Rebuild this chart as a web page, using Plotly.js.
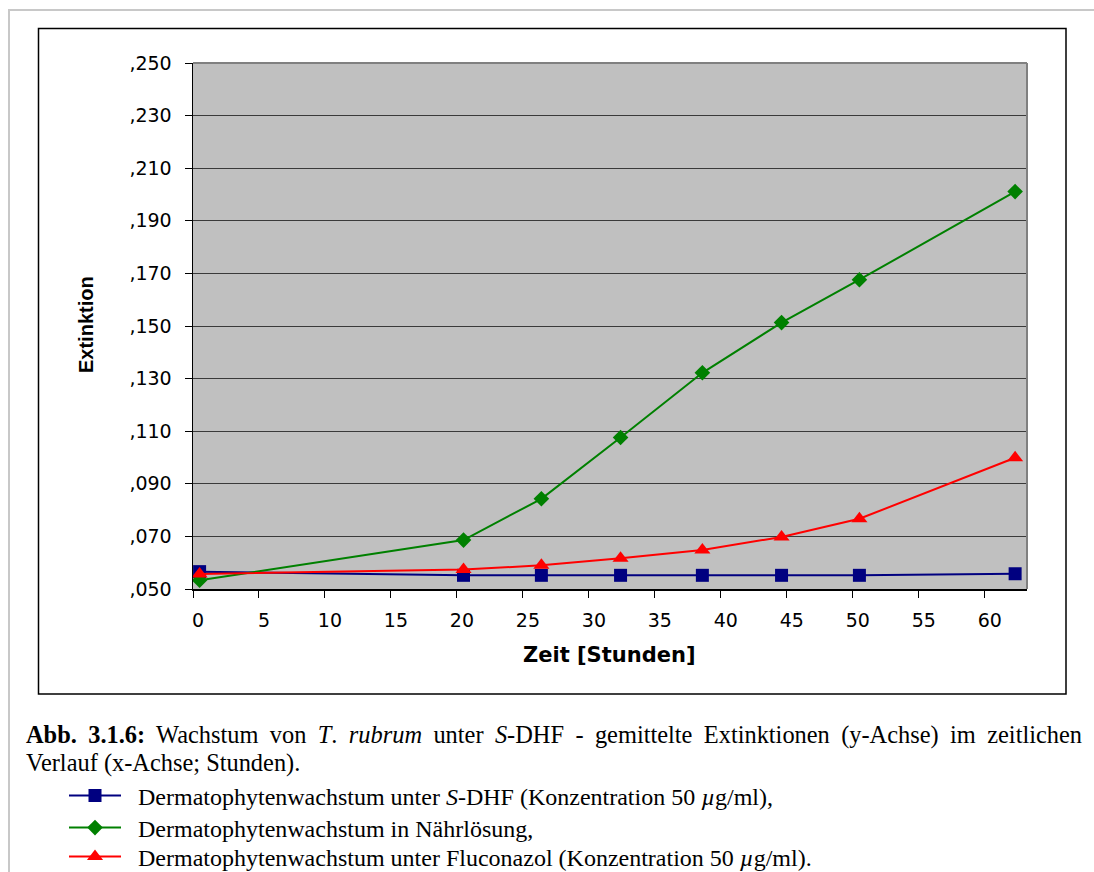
<!DOCTYPE html>
<html>
<head>
<meta charset="utf-8">
<script src="https://cdn.plot.ly/plotly-3.0.1.min.js"></script>
<style>
  html, body { margin: 0; padding: 0; background: #ffffff; }
  #wrap { position: relative; width: 1094px; height: 872px; overflow: hidden; }
  #chart { position: absolute; left: 0; top: 0; width: 1094px; height: 872px; }
  .cap { position: absolute; left: 26px; width: 1056px; font-family: "Liberation Serif", "Times New Roman", serif;
         font-size: 24.4px; color: #000; text-align: justify; text-align-last: justify; line-height: 28px; white-space: nowrap; }
  .cap2 { text-align-last: left; }
</style>
</head>
<body>
<div id="wrap">
  <div id="chart"></div>
  <div class="cap" style="top:721px;"><b>Abb. 3.1.6:</b> Wachstum von <i>T</i>. <i>rubrum</i> unter <i>S</i>-DHF - gemittelte Extinktionen (y-Achse) im zeitlichen</div>
  <div class="cap cap2" style="top:749px;">Verlauf (x-Achse; Stunden).</div>
</div>
<script>
// ---- data ----
const times = [0.5, 20.5, 26.4, 32.4, 38.6, 44.6, 50.5, 62.3];
const sDhf = [0.0566, 0.0552, 0.0552, 0.0552, 0.0552, 0.0552, 0.0552, 0.0558];
const naehrloesung = [0.0533, 0.0686, 0.0843, 0.1076, 0.1322, 0.1513, 0.1676, 0.2011];
const fluconazol = [0.0557, 0.0574, 0.0590, 0.0617, 0.0648, 0.0698, 0.0767, 0.0999];

const seriesNames = [
  "Dermatophytenwachstum unter <i>S</i>-DHF (Konzentration 50 <i>µ</i>g/ml),",
  "Dermatophytenwachstum in Nährlösung,",
  "Dermatophytenwachstum unter Fluconazol (Konzentration 50 <i>µ</i>g/ml)."
];

const xTickVals = [0, 5, 10, 15, 20, 25, 30, 35, 40, 45, 50, 55, 60];
const yTickVals = [0.05, 0.07, 0.09, 0.11, 0.13, 0.15, 0.17, 0.19, 0.21, 0.23, 0.25];
const yTickText = [",050", ",070", ",090", ",110", ",130", ",150", ",170", ",190", ",210", ",230", ",250"];

const xTitle = "Zeit [Stunden]";
const yTitle = "Extinktion";

// ---- geometry helpers (pixel -> paper) ----
const L = 193, R = 1027, T = 63, B = 589, W = 1094, H = 872;
const px = v => (v - L) / (R - L);
const py = v => (B - v) / (B - T);

const gap = "\u00a0\u00a0";
const traces = [
  { x: times, y: sDhf, name: gap + seriesNames[0], type: "scatter", mode: "lines+markers", legend: "legend",
    line: { color: "#000080", width: 2 },
    marker: { symbol: "square", size: 13, color: "#000080" } },
  { x: times, y: naehrloesung, name: gap + seriesNames[1], type: "scatter", mode: "lines+markers", legend: "legend2",
    line: { color: "#008000", width: 2 },
    marker: { symbol: "diamond", size: 12, color: "#008000" } },
  { x: times, y: fluconazol, name: gap + seriesNames[2], type: "scatter", mode: "lines+markers", legend: "legend3",
    line: { color: "#ff0000", width: 2 },
    marker: { symbol: "triangle-up", size: 14, color: "#ff0000" } }
];

const axisFont = { family: "DejaVu Sans, Liberation Sans, Arial, sans-serif", size: 19, color: "#000" };
const legendBase = top => ({
  x: px(64), y: py(top), xanchor: "left", yanchor: "top",
  bgcolor: "rgba(0,0,0,0)", borderwidth: 0,
  font: { family: "Liberation Serif, Times New Roman, serif", size: 24, color: "#000" },
  itemwidth: 52, itemsizing: "trace"
});

const layout = {
  width: W, height: H,
  margin: { l: L, r: W - R, t: T, b: H - B, pad: 0, autoexpand: false },
  paper_bgcolor: "rgba(0,0,0,0)",
  plot_bgcolor: "#c0c0c0",
  showlegend: true,
  legend: legendBase(773.5),
  legend2: legendBase(805.5),
  legend3: legendBase(834.5),
  xaxis: {
    range: [0, 63.2], tickmode: "array", tickvals: xTickVals,
    showgrid: false, zeroline: false,
    showline: true, linecolor: "#000", linewidth: 1.5,
    ticks: "outside", ticklen: 7, tickcolor: "#000", tickwidth: 1,
    tickfont: axisFont, ticklabelshift: 5, ticklabelstandoff: 7
  },
  yaxis: {
    range: [0.05, 0.25], tickmode: "array", tickvals: yTickVals, ticktext: yTickText,
    showgrid: true, gridcolor: "#3a3a3a", gridwidth: 1, zeroline: false,
    showline: true, linecolor: "#000", linewidth: 1.5,
    ticks: "outside", ticklen: 7, tickcolor: "#000", tickwidth: 1,
    tickfont: axisFont, ticklabelstandoff: 9
  },
  annotations: [
    { text: "<b>" + xTitle + "</b>", xref: "paper", yref: "paper", x: px(609), y: py(655),
      xanchor: "center", yanchor: "middle", showarrow: false,
      font: { family: "DejaVu Sans, Liberation Sans, Arial, sans-serif", size: 21, color: "#000" } },
    { text: "<b>" + yTitle + "</b>", xref: "paper", yref: "paper", x: px(86), y: py(325),
      xanchor: "center", yanchor: "middle", showarrow: false, textangle: -90,
      font: { family: "Liberation Sans, Arial, sans-serif", size: 20, color: "#000" } }
  ],
  shapes: [
    // outer light-gray page frame
    { type: "line", xref: "paper", yref: "paper", x0: px(8), x1: px(1094), y0: py(10), y1: py(10),
      line: { color: "#c8c8c8", width: 2 }, layer: "below" },
    { type: "line", xref: "paper", yref: "paper", x0: px(9), x1: px(9), y0: py(9), y1: py(872),
      line: { color: "#c8c8c8", width: 2 }, layer: "below" },
    // black chart box
    { type: "rect", xref: "paper", yref: "paper", x0: px(38.5), x1: px(1066), y0: py(694), y1: py(28.5),
      line: { color: "#000", width: 1.5 }, fillcolor: "rgba(0,0,0,0)", layer: "below" },
    // gray top/right plot frame
    { type: "line", xref: "paper", yref: "paper", x0: 0, x1: 1, y0: 1, y1: 1,
      line: { color: "#808080", width: 2 } },
    { type: "line", xref: "paper", yref: "paper", x0: 1, x1: 1, y0: 0, y1: 1,
      line: { color: "#808080", width: 2 } }
  ]
};

Plotly.newPlot("chart", traces, layout, { displayModeBar: false, staticPlot: true });
</script>
</body>
</html>
